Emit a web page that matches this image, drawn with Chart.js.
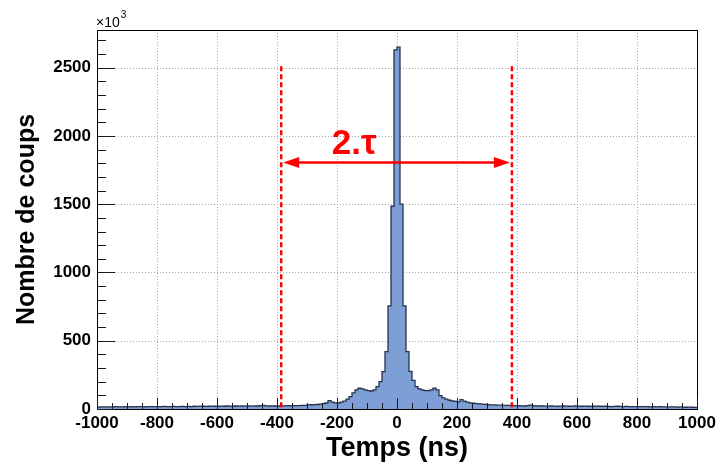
<!DOCTYPE html>
<html>
<head>
<meta charset="utf-8">
<script src="https://cdn.jsdelivr.net/npm/chart.js@4.4.1/dist/chart.umd.min.js"></script>
<style>
  html, body { margin: 0; padding: 0; background: #fff; }
</style>
</head>
<body>
<canvas id="histo" width="716" height="468"></canvas>
<script>
// histogram: 200 bins of 10 ns from -1000 to 1000 (counts in units of 10^3)
const binStart = -1000;
const binWidth = 10;
const counts = [
  // -1000 .. -500
  14, 15, 15, 16, 15, 16, 17, 16, 15, 17,
  16, 17, 16, 18, 17, 17, 16, 18, 17, 18,
  18, 17, 19, 18, 18, 19, 18, 17, 19, 18,
  19, 18, 20, 19, 21, 20, 19, 20, 21, 20,
  20, 21, 20, 22, 21, 20, 22, 21, 22, 21,
  // -500 .. 0
  22, 21, 23, 22, 24, 27, 23, 22, 23, 22,
  22, 23, 23, 24, 23, 24, 25, 24, 26, 27,
  30, 31, 32, 33, 35, 40, 44, 62, 50, 45,
  44, 50, 58, 72, 90, 118, 140, 152, 147, 140,
  134, 132, 140, 164, 200, 274, 420, 755, 1485, 2630,
  // 0 .. 500
  2650, 1500, 755, 420, 276, 210, 164, 148, 140, 135,
  135, 140, 152, 140, 98, 82, 72, 64, 60, 56,
  52, 68, 58, 50, 45, 42, 40, 38, 36, 34,
  32, 30, 30, 29, 28, 27, 26, 26, 25, 24,
  24, 23, 22, 24, 28, 25, 23, 22, 22, 21,
  // 500 .. 1000
  21, 22, 21, 20, 21, 22, 21, 20, 21, 22,
  21, 20, 21, 20, 19, 20, 21, 20, 19, 20,
  19, 18, 19, 20, 19, 18, 19, 18, 17, 18,
  18, 17, 18, 17, 16, 17, 16, 17, 16, 15,
  15, 16, 15, 14, 15, 14, 13, 14, 13, 12
];
const xTicks = [-1000, -800, -600, -400, -200, 0, 200, 400, 600, 800, 1000];
const yTicks = [0, 500, 1000, 1500, 2000, 2500];
const yMax = 2776;

// annotation: coincidence window 2.tau
const tauLeft = -386;
const tauRight = 383;
const tauTop = 2510;
const arrowLevel = 1810;
const tauLabel = "2.τ";
const tauLabelX = -143;

const points = counts.map(function(c, i) {
  return { x: binStart + i * binWidth, y: c };
});
points.push({ x: binStart + counts.length * binWidth, y: counts[counts.length - 1] });

const FONT = '"Liberation Sans", Arial, Helvetica, sans-serif';

const rootFrame = {
  id: 'rootFrame',
  beforeDatasetsDraw: function(chart) {
    const ctx = chart.ctx, a = chart.chartArea;
    const x = chart.scales.x, y = chart.scales.y;
    ctx.save();
    ctx.strokeStyle = '#a6a6a6';
    ctx.lineWidth = 1;
    ctx.setLineDash([1, 2]);
    xTicks.forEach(function(v) {
      if (v <= x.min || v >= x.max) return;
      const px = Math.round(x.getPixelForValue(v)) + 0.5;
      ctx.beginPath(); ctx.moveTo(px, a.top); ctx.lineTo(px, a.bottom); ctx.stroke();
    });
    yTicks.forEach(function(v) {
      if (v <= y.min || v >= y.max) return;
      const py = Math.round(y.getPixelForValue(v)) + 0.5;
      ctx.beginPath(); ctx.moveTo(a.left, py); ctx.lineTo(a.right, py); ctx.stroke();
    });
    ctx.restore();
  },
  afterDatasetsDraw: function(chart) {
    const ctx = chart.ctx, a = chart.chartArea;
    const x = chart.scales.x, y = chart.scales.y;
    ctx.save();
    // frame
    ctx.strokeStyle = '#000';
    ctx.lineWidth = 1;
    ctx.strokeRect(Math.round(a.left) + 0.5, Math.round(a.top) + 0.5,
                   Math.round(a.right - a.left), Math.round(a.bottom - a.top));
    // ticks, ROOT style (inside the frame)
    ctx.strokeStyle = '#1a1a1a';
    for (let v = x.min; v <= x.max; v += 50) {
      const px = Math.round(x.getPixelForValue(v)) + 0.5;
      const len = (v % 200 === 0) ? 11 : 6;
      ctx.beginPath(); ctx.moveTo(px, a.bottom); ctx.lineTo(px, a.bottom - len); ctx.stroke();
    }
    for (let v = 0; v <= y.max; v += 100) {
      const py = Math.round(y.getPixelForValue(v)) + 0.5;
      const len = (v % 500 === 0) ? 18 : 9;
      ctx.beginPath(); ctx.moveTo(a.left, py); ctx.lineTo(a.left + len, py); ctx.stroke();
    }
    // x10^3 multiplier
    ctx.fillStyle = '#000';
    ctx.textAlign = 'left';
    ctx.textBaseline = 'alphabetic';
    ctx.font = '14px ' + FONT;
    ctx.fillText('×10', a.left - 1, a.top - 3);
    const w = ctx.measureText('×10').width;
    ctx.font = '10px ' + FONT;
    ctx.fillText('3', a.left - 1 + w + 1, a.top - 12);

    // red dashed limits
    ctx.strokeStyle = '#ff0000';
    ctx.lineWidth = 2.5;
    ctx.setLineDash([5, 3]);
    [tauLeft, tauRight].forEach(function(v) {
      const px = x.getPixelForValue(v);
      ctx.beginPath();
      ctx.moveTo(px, y.getPixelForValue(tauTop));
      ctx.lineTo(px, y.getPixelForValue(0));
      ctx.stroke();
    });
    // double arrow
    ctx.setLineDash([]);
    const ay = Math.round(y.getPixelForValue(arrowLevel)) + 0.5;
    const xl = x.getPixelForValue(tauLeft) + 2;
    const xr = x.getPixelForValue(tauRight) - 2;
    const hl = 16, hw = 5.5;
    ctx.beginPath(); ctx.moveTo(xl + hl - 2, ay); ctx.lineTo(xr - hl + 2, ay); ctx.stroke();
    ctx.fillStyle = '#ff0000';
    ctx.beginPath(); ctx.moveTo(xl, ay); ctx.lineTo(xl + hl, ay - hw); ctx.lineTo(xl + hl, ay + hw); ctx.closePath(); ctx.fill();
    ctx.beginPath(); ctx.moveTo(xr, ay); ctx.lineTo(xr - hl, ay - hw); ctx.lineTo(xr - hl, ay + hw); ctx.closePath(); ctx.fill();
    // label
    ctx.font = 'bold 35px ' + FONT;
    ctx.textAlign = 'center';
    ctx.fillText(tauLabel, x.getPixelForValue(tauLabelX), ay - 9);
    ctx.restore();
  }
};

new Chart(document.getElementById('histo'), {
  type: 'line',
  data: {
    datasets: [{
      data: points,
      stepped: 'before',
      fill: 'origin',
      backgroundColor: '#7d9fd6',
      borderColor: '#26324d',
      borderWidth: 1.3,
      pointRadius: 0,
      tension: 0
    }]
  },
  options: {
    responsive: false,
    devicePixelRatio: 1,
    animation: false,
    events: [],
    layout: { padding: { top: 30, right: 19, left: 0, bottom: 0 } },
    plugins: {
      legend: { display: false },
      tooltip: { enabled: false },
      title: { display: false }
    },
    scales: {
      x: {
        type: 'linear',
        min: -1000,
        max: 1000,
        afterBuildTicks: function(s) { s.ticks = xTicks.map(function(v) { return { value: v }; }); },
        afterFit: function(s) { s.height = 59; s.paddingLeft = 0; s.paddingRight = 0; },
        grid: { display: false, drawTicks: false },
        border: { display: false },
        ticks: {
          autoSkip: false,
          maxRotation: 0,
          padding: 4,
          color: '#000',
          font: { family: FONT, size: 17, weight: 'bold' },
          callback: function(v) { return String(v); }
        },
        title: {
          display: true,
          text: 'Temps (ns)',
          color: '#000',
          font: { family: FONT, size: 27, weight: 'bold' },
          padding: { top: 0, bottom: 3 }
        }
      },
      y: {
        min: 0,
        max: yMax,
        afterBuildTicks: function(s) { s.ticks = yTicks.map(function(v) { return { value: v }; }); },
        afterFit: function(s) { s.width = 97; s.paddingTop = 0; s.paddingBottom = 0; },
        grid: { display: false, drawTicks: false },
        border: { display: false },
        ticks: {
          autoSkip: false,
          padding: 6,
          color: '#000',
          font: { family: FONT, size: 17, weight: 'bold' },
          callback: function(v) { return String(v); }
        },
        title: {
          display: true,
          text: 'Nombre de coups',
          color: '#000',
          font: { family: FONT, size: 25, weight: 'bold' },
          padding: { top: 12, bottom: 0 }
        }
      }
    }
  },
  plugins: [rootFrame]
});
</script>
</body>
</html>
